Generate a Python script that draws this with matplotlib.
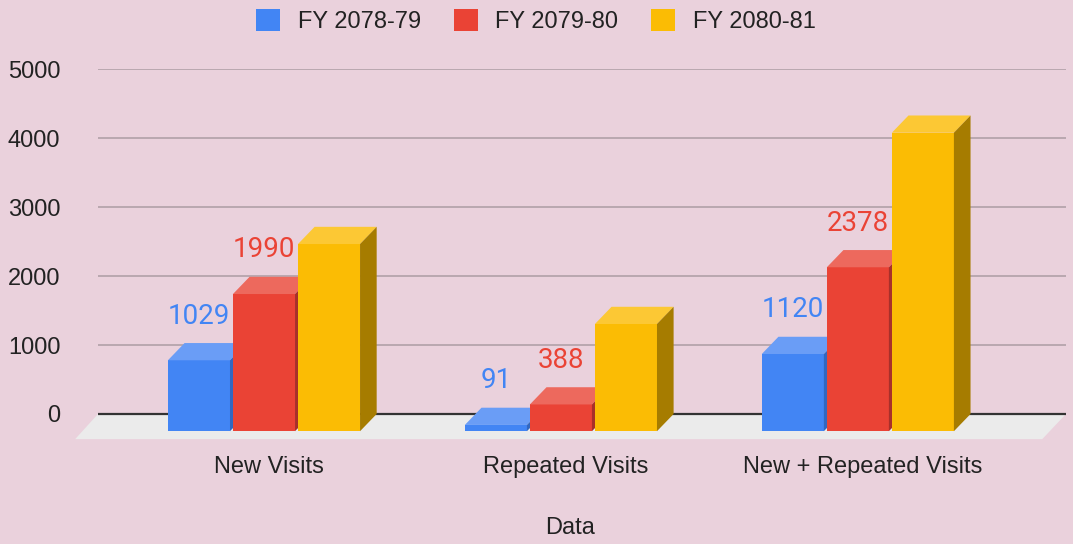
import matplotlib.pyplot as plt
from matplotlib.patches import Polygon, Patch
import numpy as np

categories = ["New Visits", "Repeated Visits", "New + Repeated Visits"]
series = ["FY 2078-79", "FY 2079-80", "FY 2080-81"]
fy_7879 = [1029, 91, 1120]
fy_7980 = [1990, 388, 2378]
fy_8081 = [2715, 1555, 4330]
show_labels = [True, True, False]

front = ["#4285f4", "#ea4335", "#fbbc04"]
top = ["#6a9df6", "#ed695d", "#fcc834"]
side = ["#3267c0", "#a8302a", "#a67c00"]
bg = "#ead1dc"

W = 1073 / 100
H = 544 / 100
fig = plt.figure(figsize=(W, H), dpi=100, facecolor=bg)

# axes placed so that 0 sits at y=414px and 5000 at y=69px
ax = fig.add_axes([98 / 1073, 1 - 445 / 544, 968 / 1073, (445 - 69.3) / 544])
ax.set_facecolor(bg)
ax.set_xlim(-0.559, 2.701)
ax.set_ylim(-450, 5000)

bw = 0.209      # bar width
step = 0.219    # bar spacing inside a group
dx = 0.056      # depth shift (x units)
dy = 250        # depth shift (value units)

x = np.arange(len(categories))

# floor
x0, x1 = ax.get_xlim()
floor = Polygon([(x0 - 0.077, -365), (x1 - 0.08, -365), (x1, 0), (x0, 0)],
                closed=True, facecolor="#ebebeb", edgecolor="none", zorder=1,
                clip_on=False)
ax.add_patch(floor)

for gv in range(1000, 5001, 1000):
    ax.axhline(gv, color="#b5a4ac", lw=1.3, zorder=0)
ax.axhline(0, color="#333333", lw=1.6, zorder=1.5)

data = [fy_7879, fy_7980, fy_8081]
z = 2
for k, vals in enumerate(data):
    xs = x + (k - 1) * step
    for xf, v in zip(xs, vals):
        l, r = xf - bw / 2, xf + bw / 2
        ax.bar(xf, v, width=bw, bottom=-dy, color=front[k], zorder=z)
        ax.add_patch(Polygon([(l, v - dy), (r, v - dy), (r + dx, v), (l + dx, v)],
                             closed=True, facecolor=top[k], edgecolor="none", zorder=z))
        ax.add_patch(Polygon([(r, -dy), (r + dx, 0), (r + dx, v), (r, v - dy)],
                             closed=True, facecolor=side[k], edgecolor="none", zorder=z))
        if show_labels[k]:
            ax.annotate(str(v), (xf, v), xytext=(0, 14), textcoords="offset points",
                        ha="center", va="baseline", fontsize=20, family="Roboto",
                        color=front[k], zorder=10)
        z += 0.1

for s in ax.spines.values():
    s.set_visible(False)

ax.set_yticks(range(0, 5001, 1000))
ax.set_yticklabels([str(t) for t in range(0, 5001, 1000)],
                   fontsize=17, family="Liberation Sans", color="#222222")
ax.set_xticks(x + 0.015)
ax.set_xticklabels(categories, fontsize=17, family="Liberation Sans", color="#222222")
ax.tick_params(axis="y", length=0, pad=27)
ax.tick_params(axis="x", length=0, pad=8)

fig.text(570 / 1073, 1 - 528 / 544, "Data", ha="center", va="center",
         fontsize=17, family="Liberation Sans", color="#222222")

handles = [Patch(facecolor=c, edgecolor="none") for c in front]
leg = fig.legend(handles, series, loc="center", ncol=3,
                 bbox_to_anchor=(536 / 1073, 1 - 20.7 / 544),
                 frameon=False, handlelength=1.0, handleheight=1.05,
                 handletextpad=0.75, columnspacing=1.4,
                 prop={"family": "Liberation Sans", "size": 17})
for t in leg.get_texts():
    t.set_color("#222222")

fig.savefig("out.png", dpi=100, facecolor=bg)
